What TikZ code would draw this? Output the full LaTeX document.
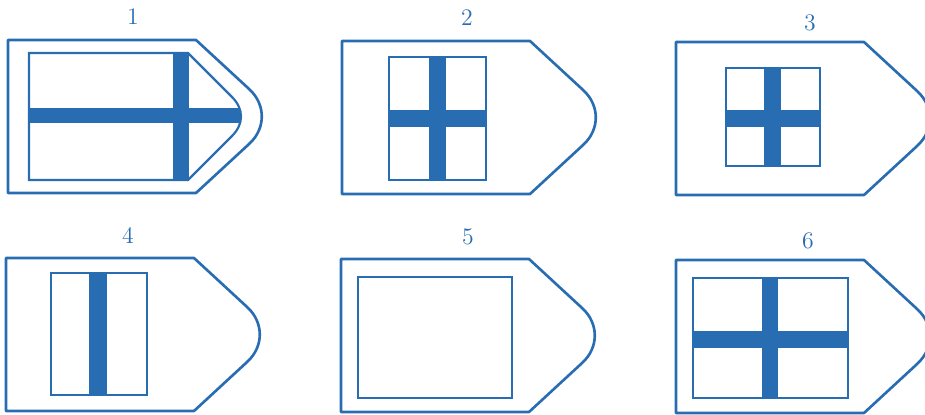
\documentclass[tikz,border=0pt]{standalone}
\usepackage{tikz}

\definecolor{flagblue}{RGB}{40,108,178}

% outer hull of one boat, from its top left corner
\newcommand{\hull}[2]{%
\draw[outline, shift={(#1,#2)}] (0,0) -- (188,0) -- (241.4,49.3)
  .. controls (257.9,64.6) and (257.9,88.4) .. (241.4,103.7)
  -- (188,153) -- (0,153) -- cycle;}

\begin{document}
\begin{tikzpicture}[x=0.02cm, y=-0.02cm,
  outline/.style={draw=flagblue, line width=1.5pt, line join=round},
  inner/.style={draw=flagblue, line width=1.25pt},
  bar/.style={fill=flagblue},
  num/.style={text=flagblue, font=\fontsize{13.5}{14}\selectfont, inner sep=0pt}]
\useasboundingbox (0,0) rectangle (925,415);
\clip (0,0) rectangle (925,415);

% numbers
\node[num] (n1) at (133,17) {1};
\node[num] (n2) at (467,18) {2};
\node[num] (n3) at (810,23) {3};
\node[num] (n4) at (128,235) {4};
\node[num] (n5) at (468,237) {5};
\node[num] (n6) at (808,241) {6};

% hulls
\hull{8}{40}
\hull{342}{41}
\hull{676}{42}
\hull{6}{258}
\hull{341}{259}
\hull{676}{260}

% boat 1
\begin{scope}
\clip (29,53) -- (188,53) -- (232,97)
  .. controls (244,109) and (244,124) .. (232,136)
  -- (188,180) -- (29,180) -- cycle;
\fill[bar] (29,108) rectangle (260,123);
\fill[bar] (173,53) rectangle (189,180);
\end{scope}
\draw[inner] (29,53) -- (188,53) -- (232,97)
  .. controls (244,109) and (244,124) .. (232,136)
  -- (188,180) -- (29,180) -- cycle;

% boat 2
\fill[bar] (429,57) rectangle (446,180);
\fill[bar] (389,110) rectangle (486,127);
\draw[inner] (389,57) rectangle (486,180);

% boat 3
\fill[bar] (764,68) rectangle (781,166);
\fill[bar] (726,110) rectangle (820,127);
\draw[inner] (726,68) rectangle (820,166);

% boat 4
\fill[bar] (89,273) rectangle (107,395);
\draw[inner] (51,273) rectangle (147,395);

% boat 5
\draw[inner] (358,277) rectangle (512,398);

% boat 6
\fill[bar] (762,278) rectangle (778,398);
\fill[bar] (693,331) rectangle (848,348);
\draw[inner] (693,278) rectangle (848,398);
\end{tikzpicture}
\end{document}
